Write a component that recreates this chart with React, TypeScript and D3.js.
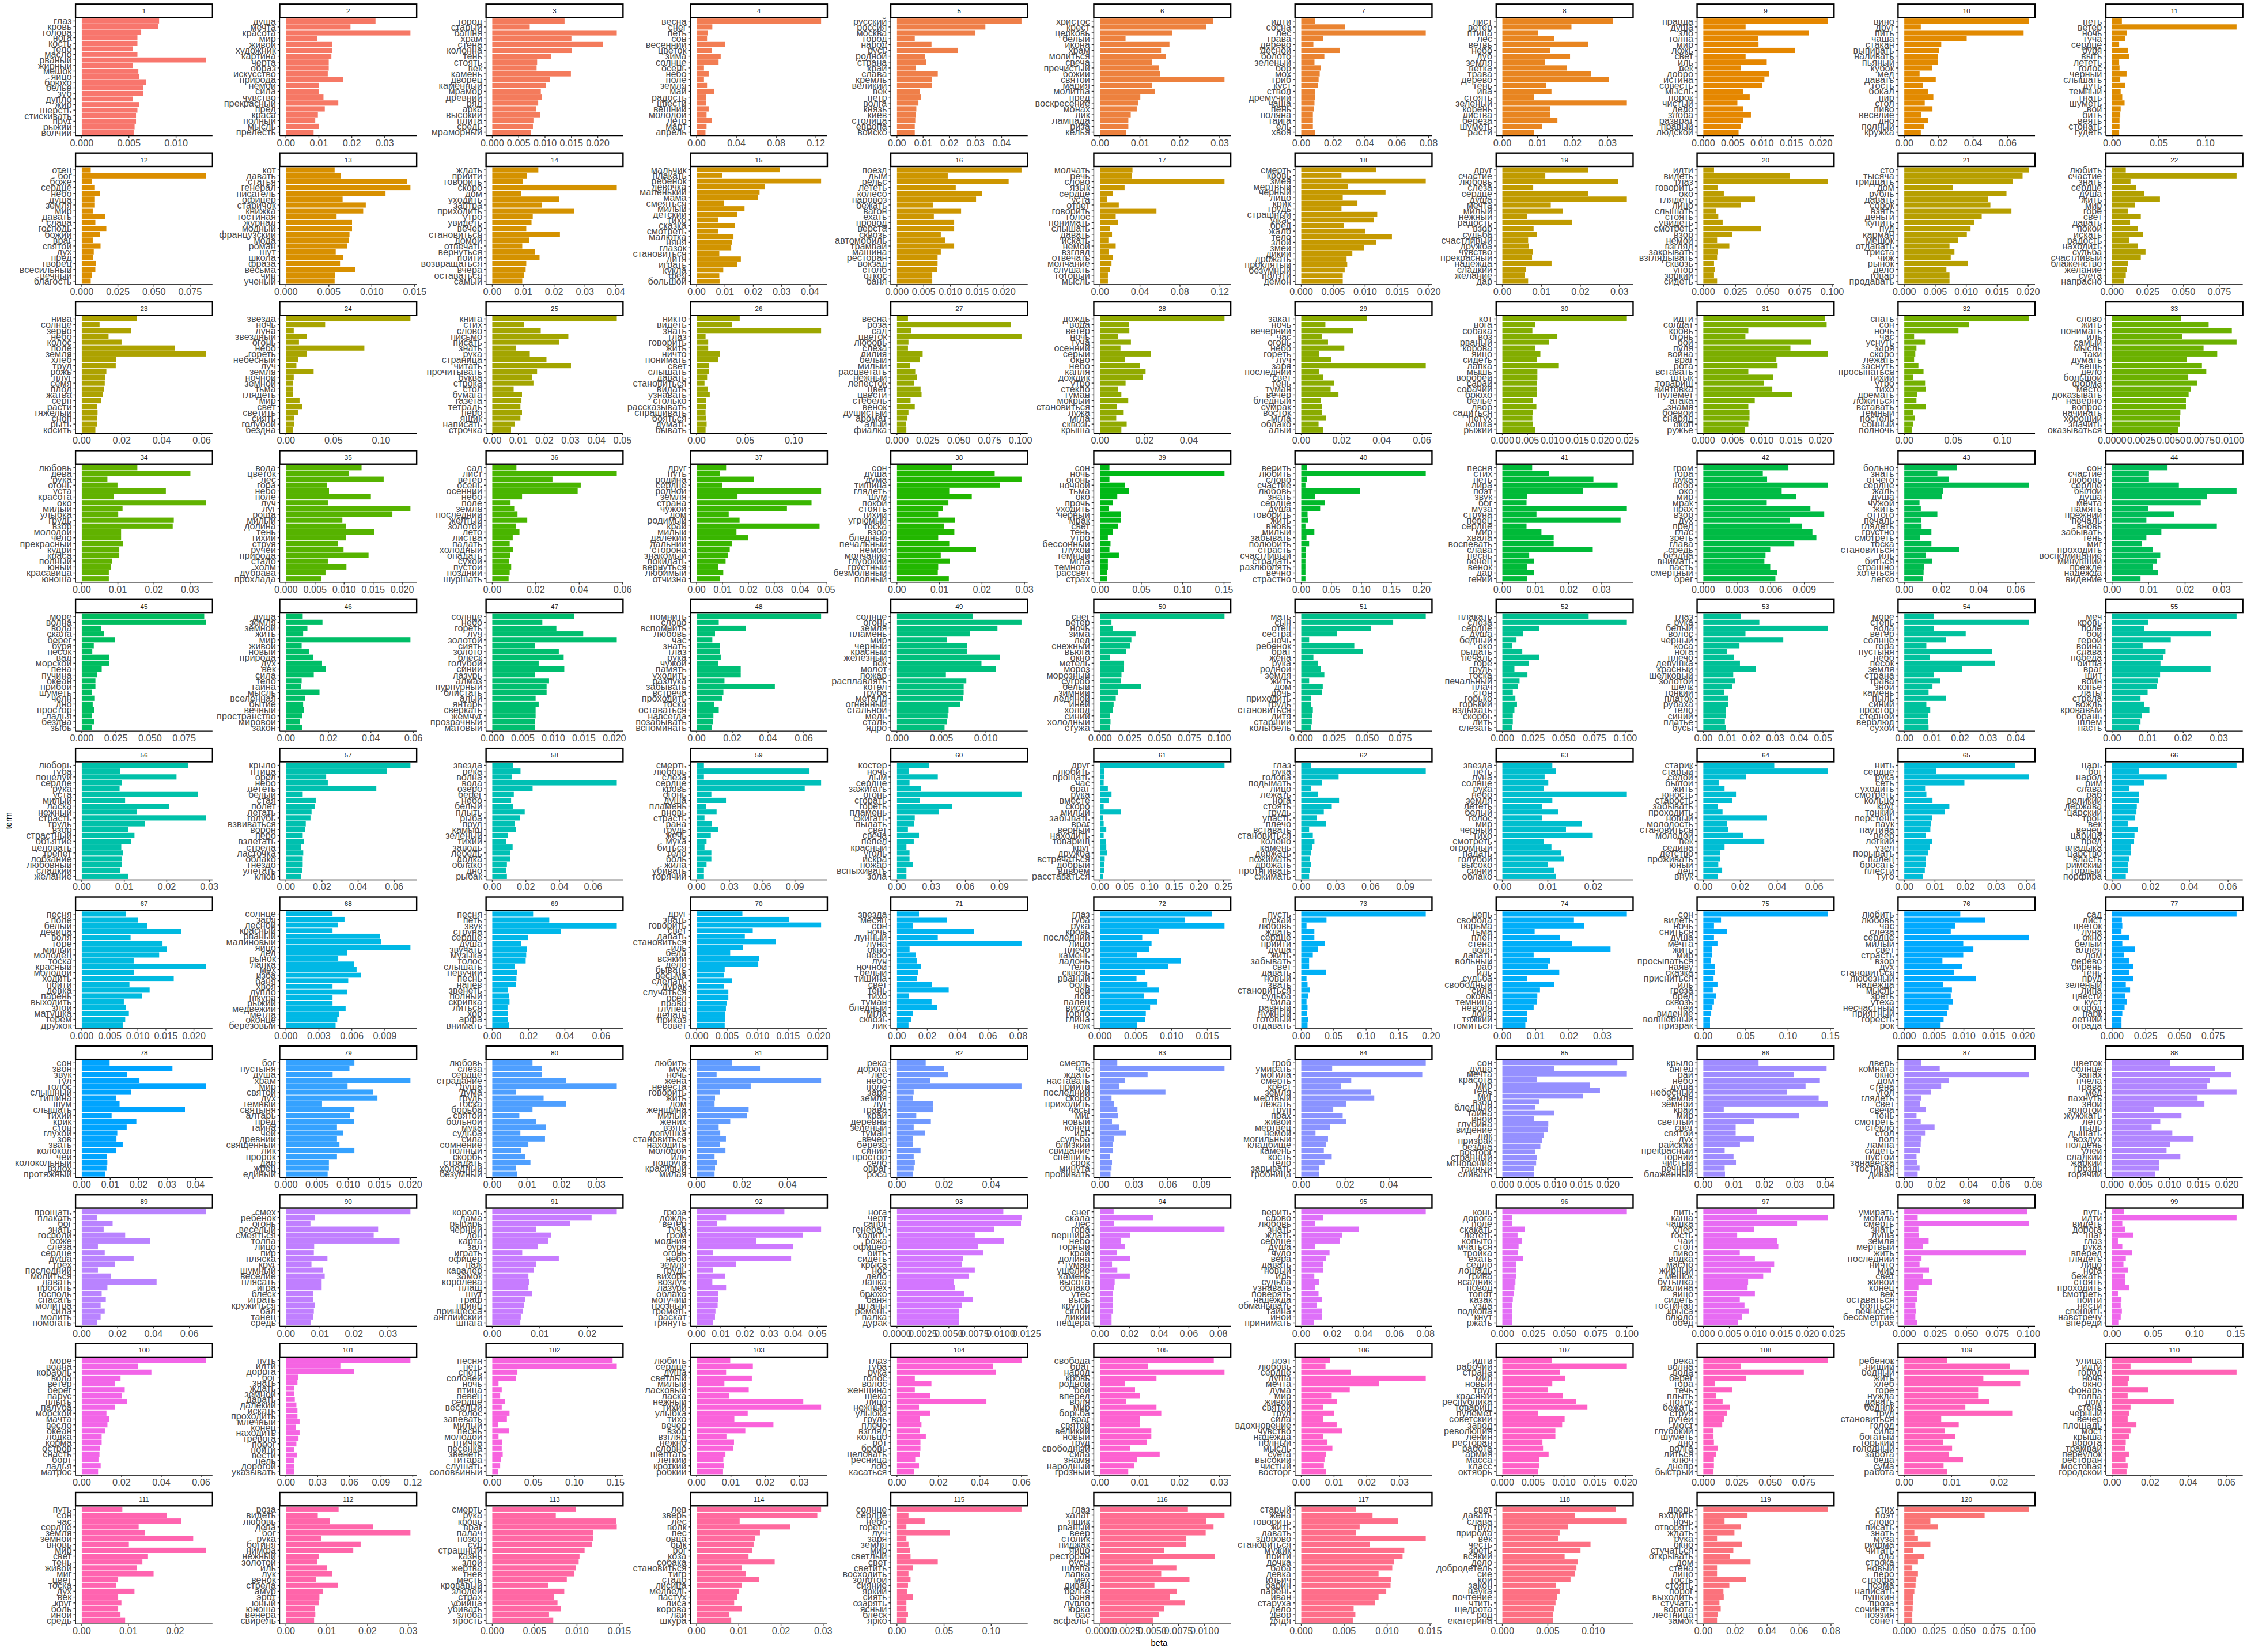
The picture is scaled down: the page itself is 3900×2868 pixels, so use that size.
import { useMemo } from "react";
import * as d3 from "d3";

const W = 3900;
const H = 2868;
const PT = 96 / 72;

// top terms of every topic, listed from top to bottom as drawn
const topicTerms: string[] = [
  "глаз кровь голова нога кость тело масло рваный жирный мешок яйцо брюхо белье зуб дупло жир шерсть стискивать прут рыжий волчий",
  "душа мечта красота мир живой художник картина черта образ искусство природа немой сила чувство прекрасный пред краса полный мысль прелесть",
  "город старый башня храм стена колонна тень стоять век камень дворец каменный мрамор древний ряд арка высокий плита средь мраморный",
  "весна снег петь сон весенний цветок зима солнце осень небо поле земля май радость цвести вешний молодой лето март апрель",
  "русский россия москва город народ русь родной страна край слава кремль великий век петр волга князь киев столица европа войско",
  "христос крест церковь белый икона храм молиться свеча пречистый божий святой мария молитва пред воскресение монах лик лампада риза келья",
  "идти сосна лес трава дерево лесной болото зеленый бор мох гриб куст ствол дремучий чаща пень поляна тайга ель хвоя",
  "лист ветер птица лес ветвь небо дуб земля ветка трава дерево тень ива стоять зеленый корень листва береза шуметь расти",
  "правда душа зло толпа мир ложь свет иль век добро истина совесть мысль порок чистый дело злоба разврат правый людской",
  "вино друг пить чаша стакан выпивать наливать пьяный кубок мед давать гость бокал пир стол пиво веселие дно полный кружка",
  "петь ветер ночь туча сердце буря выть лететь голос черный слышать дуть темный гнать шуметь вой бить веять стонать гудеть",
  "отец бог боже сердце небо душа земля мир давать слава господь божий враг святой дух пред творец всесильный вечный благость",
  "кот давать статья генерал писатель офицер старичок книжка гостиная журнал модный французский мода роман шут школа фраза весьма чин ученый",
  "ждать прийти говорить скоро дом уходить завтра приходить утро увидеть вечер становиться домой отвечать вернуться пойти возвращаться вчера оставаться самый",
  "мальчик плакать ребенок девочка маленький мама смеяться милый детский тихо сказка смотреть малютка няня глазок становиться дитя играть кукла фея большой",
  "поезд дым рельс лететь колесо паровоз бежать вагон ехать провод верста сквозь автомобиль трамвай машина ресторан вокзал столб откос баня",
  "молчать речь слово язык сердце уста ответ говорить голос понимать слышать давать искать немой взгляд отвечать молчание слушать готовый мысль",
  "смерть кровь змея мертвый черный лицо крик грудь страшный ужас бред жало тело злой змей дикий дрожать проклятый безумный ползти демон",
  "друг счастие любовь слеза сердце душа мечта милый нежный радость взор судьба счастливый дружба чувство прекрасный надежда сладкий желание дар",
  "идти видеть глаз говорить око глядеть лицо слышать стоять увидеть смотреть взор немой взгляд закрывать взглядывать сквозь упор зоркий сидеть",
  "сто тысяча тридцать дом рубль давать сорок взять деньги купить пуд карман мешок отдавать триста чиж рынок дело товар продавать",
  "любить счастие знать сердце душа жить мир горе свет давать покой искать радость находить судьба счастливый блаженство желание суета напрасно",
  "нива солнце зерно небо колос поле земля хлеб труд рожь плуг семя плод жатва серп расти тяжелый сноп рыть косить",
  "звезда ночь луна звездный огонь небо гореть небесный луч земля ночной земной тьма глядеть мир свет светить сиять голубой бездна",
  "книга стих слово письмо писать знать рука страница читать прочитывать буква строка стол бумага газета тетрадь перо ящик написать строчка",
  "никто видеть знать глаз говорить жить ничто понимать свет слышать давать становиться видать узнавать столько рассказывать спрашивать бояться думать бывать",
  "весна роза сад цветок любовь слеза лилия белый милый расцветать нежный лепесток цвет цвести стебель венок душистый аромат алый фиалка",
  "дождь вода ветер ночь туча осенний серый окно небо капля дождик утро стекло туман мокрый становиться лужа мгла сквозь крыша",
  "закат ночь вечерний час огонь небо гореть луч заря последний свет тень туман вечер бледный сумрак восток мгла облако алый",
  "кот нога собака воз рваный корова яйцо сидеть лапка мышь воробей сарай собачий брюхо белье двор садиться петух кошка рыжий",
  "идти солдат кровь огонь бой пуля война враг рота вставать штык товарищ винтовка пулемет атака знамя боевой снаряд окоп ружье",
  "спать сон ночь час уснуть заря скоро лежать заснуть просыпаться тихий утро тихо дремать ложиться вставать темный постель сонный полночь",
  "слово жить понимать иль самый мысль таки думать вещь дело большой форма место доказывать наверно вопрос начинать хороший значить оказываться",
  "любовь дева рука огонь уста красота око милый улыбка грудь взор молодой чело прекрасный кудри краса полный юный красавица юноша",
  "вода цветок лес гора небо поле луч луг роща милый долина тень тихий струя ручей природа стадо холм дубрава прохлада",
  "сад лист ветер осень осенний небо поле земля последний желтый золотой лето листва падать холодный опадать сухой пустой поздний шуршать",
  "друг путь родина сердце родной земля страна чужой дом родимый край милый далекий дальний сторона знакомый покидать вернуться любимый отчизна",
  "сон душа дума тишина глядеть шум покой стоять тихий угрюмый тоска взор бледный печальный немой молчание глубокий грустный безмолвный полный",
  "сон ночь огонь ночной тьма око прочь уходить черный мрак свет тень утро бессонный глухой темный мгла темнота рассвет страх",
  "верить любить слово счастие любовь знать сердце душа говорить жить вновь милый забывать полюбить страсть счастливый страдать разлюблять вечно страстно",
  "песня стих петь лира поэт звук бог муза струна певец сердце мир хвала воспевать слава песнь венец венок дар гений",
  "гром гора рука небо око мир мрак прах взор дух пред глас зреть глава средь бездна внимать пасть смертный брег",
  "больно знать отчего сердце жаль душа чужой жить оттого печаль глядеть грустно смотреть тоска становиться иль биться страшно хотеться легко",
  "сон счастие любовь сердце былой душа мечта память прежний печаль вновь забывать тень миг проходить воспоминание минувший прежде надежда видение",
  "море волна вода скала берег буря песок вал морской пена пучина океан прибой шуметь челн дно простор ладья бездна зыбь",
  "душа земля земной жить мир живой новый природа дух век сила тело тайна мысль вселенная бытие вечный пространство мировой закон",
  "солнце небо гореть луч золотой сиять золото блеск голубой синий лазурь алмаз пурпурный блистать алый янтарь сверкать жемчуг прозрачный матовый",
  "помнить слово вспомнить любовь час знать глаз рука чужой память уходить разлука забывать встреча проходить тоска оставаться навсегда позабывать вспоминать",
  "солнце огонь земля пламень мир черный красный железный век молот пожар расплавлять котел труба металл огненный стальной медь сталь ядро",
  "снег ветер ночь зима лед снежный вьюга окно метель мороз морозный сугроб белый зимний ледяной иней холод синий холодный стужа",
  "мать сын отец сестра ночь ребенок брат жена рука родной земля жить дом дочь приходить грудь становиться дитя старший колыбель",
  "плакать слеза сердце душа бедный око рыдать печаль горе грудь тоска печальный плач стон горько горький вздыхать скорбь лить слезать",
  "глаз рука белый волос черный коса нога плечо девушка красный шелковый золотой шелк тонкий платок рубаха тело синий платье бусы",
  "море степь вода ветер солнце гора пустыня небо песок земля страна трава зной камень пыль синий простор степной верблюд сухой",
  "меч кровь поле бой герой война слава победа битва враг щит воин копье латы стрела вождь кровавый брань шлем пасть",
  "любовь губа поцелуй сердце рука уста милый ласка нежный страсть грудь взор страстный объятие целовать трепет лобзание любовный сладкий желание",
  "крыло птица орел небо лететь белый стая полет летать голубь взвиваться ворон перо взлетать стрела ласточка облако гнездо улетать клюв",
  "звезда река волна вода озеро берег небо белый плыть рыба пруд камыш зеленый тихий заводь лебедь лодка облако дно рыбак",
  "смерть любовь слеза сердце кровь огонь душа пламень вновь страсть рана грудь жечь мука биться тело боль жила убивать горячий",
  "костер ночь дым сердце зажигать огонь сгорать гореть пламень сжигать пылать свет свеча пепел красный уголь искра пожар вспыхивать зола",
  "друг любить прощать час брат рука вместе скоро милый забывать враг верный находить товарищ круг дружба встречаться добрый вдвоем расставаться",
  "глаз рука голова подымать лицо лежать нога стоять грудь упасть плечо вставать становиться колено камень держать пожимать дрожать протягивать сжимать",
  "звезда петь луна солнце рука небо земля лететь белый голос мир черный тихо смотреть огромный падать голубой высоко синий облако",
  "старик старый седой былой жить юность старость забывать проходить новый молодость становиться молодой век седина детство проживать юный дед внук",
  "нить сердце рука сеть уходить смотреть кольцо круг тонкий перстень паук паутина веер легкий узел порывать палец бросать плести туго",
  "царь бог народ рим слава раб великий держава царский трон век венец царица пред владыка царство власть римский гордый порфира",
  "песня поле белый девица воля горе милый молодец тоска красный молодой ходить пойти девка парень выходить злой матушка терем дружок",
  "солнце заря лесной красный рваный малиновый яйцо дед рынок лапка мех изба баня хвоя дупло шкура рыжий медвежий метла оконце березовый",
  "песня петь звук струна сердце душа звучать музыка голос слышать певучий песнь напев звенеть полный скрипка литься хор арфа внимать",
  "друг знать говорить свет давать становиться иль беда всякий дело бывать весьма сделать дурак случаться осел право глупец делать приказ совет",
  "звезда месяц сон ночь лунный луна окно небо луч ночной белый тишина свет тень тихо туман бледный мгла сквозь лик",
  "глаз губа рука кровь последний лицо плечо камень ладонь тело сквозь рваный боль чей лоб палец висок горло глина нож",
  "пусть пускай любовь ждать сердце прийти душа жить забывать свет давать новый звать становиться судьба сила равный нужный готовый отдавать",
  "цепь свобода тюрьма тьма плен стена воля давать вольный раб иль судьба свободный сила оковы темница неволя доля тяжкий томиться",
  "сон видеть ночь сниться душа мечта жить мир просыпаться наяву сказка присниться иль греза бред сквозь чей видение волшебный призрак",
  "любить любовь час слеза сердце милый свет страсть взор дух становиться любезный надежда мысль зреть утеха несчастный приятный горесть рок",
  "сад лист цветок луна окно белый аллея дом дерево сирень тень пруд зеленый липа цвести куст огород парк летний ограда",
  "сон звон звук гул голос слышный тишина шум слышать тихий крик стон глухой зов звать колокол чей колокольный вздох протяжный",
  "бог пустыня душа храм мир святой дух темный святыня алтарь пред тайна чей древний священный лик пророк дар жрец единый",
  "любовь слеза сердце страдание душа дума грудь тоска борьба святой больной мука судьба сила сомнение полный скорбь страдать холодный безумный",
  "любить муж ночь жена невеста говорить жить дом женщина милый жених взять девушка становиться находить молодой иль подруга красивый милая",
  "река дорога лес небо поле заря земля луг трава край деревня зеленый туман вечер береза синий простор село овраг роса",
  "смерть час ждать наставать прийти последний скоро приходить часы миг новый конец иль судьба близкий свидание спешить срок минута пробивать",
  "гроб умирать могила смерть крест земля мертвый лежать труп прах живой мертвец немой могильный кладбище камень кость тело зарывать гробница",
  "сон душа мечта красота мир тень миг взор бледный тайна иной глубина видение лик призрак бездна восторг странный мгновение тайный сливать",
  "крыло ангел рай небо душа небесный земля земной край мир светлый свет святой дух райский прекрасный горний чистый вечный блаженный",
  "дверь комната окно дом стена угол глядеть свет свеча тень смотреть стекло стол пол лампа сидеть пустой занавеска гостиная диван",
  "цветок солнце запах пчела трава мед пахнуть зной золотой жужжать лето пыль дышать воздух полдень улей сладкий жаркий гроздь горячий",
  "прощать плакать бог знать господи боже слеза сердце душа грех последний молиться давать просить господь спасать молитва сила молить помогать",
  "смех ребенок огонь веселый смеяться толпа лицо пир пляска круг шумный веселие плясать игра блеск играть кружиться бал танец средь",
  "король дама рыцарь черный дон карта зал играть офицер паж кавалер замок королева плащ шут граф принц принцесса английский шпага",
  "гроза дождь ветер туча гром молния буря огонь небо земля грудь вихорь воздух лазурь облако могучий грозный греметь раскат грянуть",
  "нога черт сапог генерал ходить рожа офицер бить сидеть крыса нос дело лапка мех брюхо баня штаны ремень палка дурак",
  "снег скала лес гора вершина небо горный край долина туман ущелие камень высота облако утес высь крутой склон дикий пещера",
  "верить слово любовь знать ждать сердце душа чудо вера давать новый иль судьба узнавать поверять надежда обманывать тайна иной принимать",
  "конь дорога поле скакать лететь копыто мчаться тройка ехать седло лошадь грива всадник повод топот казак узда подкова кнут ржать",
  "пить каша чашка хлеб гость чай стол пиво водка масло жирный мешок бутылка малина яйцо сидеть гостиная крыса блюдо обед",
  "умирать могила смерть знать душа земля мертвый жить последний ничто мир свет живой конец век оставаться бояться вечность бессмертие страх",
  "путь идти видеть дорога шаг глаз рука вперед глядеть лицо нога бежать стоять проходить смотреть пойти нести спешить навстречу впереди",
  "море волна корабль вода ветер берег парус плыть палуба морской мачта весло океан лодка корма остров снасть борт ладья матрос",
  "путь идти дорога бог знать ждать земной давать далекий искать проходить млечный конец находить тревога порог пойти вести цель дорогой указывать",
  "песня петь спеть соловей ночь птица певец сердце веселый голос запевать милый песнь молодой птичка песенка звенеть гитара слушать соловьиный",
  "любить сердце душа светлый милый ласковый ласка нежный тихий улыбка тихо вечер взор взгляд нежно словно шептать легкий кроткий робкий",
  "глаз губа рука голос волос женщина щека лицо нежный улыбка грудь плечо взгляд кольцо рот бровь целовать ресница лоб касаться",
  "свобода брат народ кровь родной бой вперед воля мир борьба враг святой великий новый труд свободный сила знамя народный грозный",
  "поэт любовь сердце душа мечта дума мир живой святой труд сила вдохновение чувство надежда полный мысль суета высокий чистый восторг",
  "идти рабочий страна мир новый труд красный республика товарищ пулемет советский завод революция ленин ресторан работа армия масса класс октябрь",
  "река волна вода берег гора течь плыть поток бежать струя ручей мост глубокий шуметь дно волга литься ключ днепр быстрый",
  "ребенок нищий бедный жить хлеб горе нужда давать бедняк труд становиться голод сила богатый горький голодный забота беда сума работа",
  "улица идти город ночь окно фонарь толпа дом стена черный вечер площадь мост крыша ворота трамвай переулок ресторан мостовая городской",
  "путь сон час сердце земля земной вновь мир свет тень живой миг цвет тоска дух век круг боль иной средь",
  "роза видеть любовь дева бог рука богиня нимфа нежный золотой иль лук венок стрела амур эрот юный юноша венера свирель",
  "смерть рука кровь враг палач позор суд страшный казнь злой жертва гнев месть кровавый злодей страх убийца убивать злоба ярость",
  "лев зверь лес волк пес овца бык рог коза собака становиться тигр стадо лисица медведь пастух лиса корова лай шкура",
  "солнце сердце небо гореть луч заря земля мир светлый свет светить восходить золотой сияние яркий сиять озарять ясный блеск ярко",
  "глаз халат ящик рваный веер столик пиджак яйцо ресторан бусы шляпа лапка мех диван белье баня дупло юбка бас асфальт",
  "старый жена говорить жить давать здорово становиться мужик пойти дочка баба девка ильич барин парень иван старуха дело двор дядя",
  "свет давать слава труд природа век честь зреть всякий дело добродетель сие кой закон наука почтение чтить щедрота род екатерина",
  "дверь входить ночь отворять ждать рука окно стучаться открывать дом стена лицо гость стоять порог выходить стучать ворота лестница замок",
  "стих поэт слово писать знать муза рифма читать ода строка новый перо строфа поэма написать пушкин проза сочинять поэзия сонет",
];

// beta × 1000 for the same terms, same order
const topicBeta: number[][] = [
  [8.2, 8.1, 6.3, 5.9, 5.9, 5.4, 5.9, 13.2, 5.4, 6.0, 6.1, 6.8, 6.5, 6.5, 5.4, 6.1, 5.9, 5.75, 5.75, 5.6, 5.5],
  [27.2, 19.6, 37.8, 9.4, 14.1, 14.1, 13.8, 13.0, 13.0, 12.7, 17.3, 10.0, 10.0, 11.4, 15.9, 11.8, 9.7, 8.9, 10.0, 8.4],
  [13.7, 7.1, 23.6, 15.0, 21.0, 15.1, 11.2, 8.5, 8.4, 14.9, 10.9, 10.2, 9.2, 9.4, 8.7, 8.3, 9.1, 7.8, 7.7, 7.3],
  [125.2, 15.8, 11.0, 10.5, 28.9, 15.3, 24.2, 22.1, 7.4, 12.1, 7.4, 10.5, 17.9, 9.5, 9.5, 12.1, 10.0, 15.3, 10.0, 8.9],
  [47.6, 33.8, 30.0, 6.8, 13.2, 23.2, 10.8, 11.2, 7.2, 15.6, 13.4, 13.4, 8.8, 9.2, 8.2, 7.4, 7.2, 7.0, 6.8, 6.8],
  [28.4, 26.6, 18.1, 6.4, 17.4, 15.3, 16.5, 13.0, 14.8, 15.1, 31.2, 13.0, 13.8, 10.1, 9.6, 9.2, 7.7, 7.1, 7.1, 6.6],
  [8.6, 27.4, 78.2, 13.9, 7.6, 24.4, 14.5, 8.3, 12.2, 11.6, 10.9, 10.6, 8.6, 8.6, 8.3, 7.9, 7.3, 7.3, 7.3, 8.6],
  [31.5, 19.7, 10.1, 14.8, 24.5, 13.7, 19.3, 12.1, 18.4, 25.2, 30.4, 12.4, 14.0, 9.0, 35.5, 13.6, 13.6, 15.7, 11.3, 9.1],
  [21.2, 7.2, 18.0, 9.3, 9.4, 15.6, 7.2, 10.8, 6.4, 11.2, 10.4, 10.0, 6.8, 7.9, 5.8, 6.8, 8.1, 6.8, 6.4, 6.0],
  [72.4, 9.6, 69.4, 36.3, 21.5, 20.1, 19.4, 19.4, 16.2, 8.9, 18.3, 10.7, 13.9, 16.9, 11.9, 16.4, 10.0, 13.9, 11.4, 9.6],
  [10.5, 133.2, 16.0, 14.3, 7.6, 16.8, 18.5, 7.6, 8.0, 15.5, 8.8, 14.3, 9.2, 10.9, 13.4, 9.2, 8.8, 8.0, 8.0, 7.6],
  [6.2, 86.2, 6.9, 9.1, 12.7, 9.1, 9.1, 7.6, 16.3, 9.4, 17.0, 12.7, 7.6, 13.0, 8.3, 8.0, 9.8, 9.4, 7.2, 6.2],
  [5.67, 6.4, 14.1, 14.5, 11.6, 6.6, 9.3, 9.0, 5.9, 7.7, 7.7, 7.4, 7.3, 7.1, 5.8, 6.65, 6.3, 8.05, 5.7, 5.67],
  [14.9, 11.2, 9.8, 40.3, 9.3, 21.7, 16.1, 26.4, 13.1, 12.7, 11.0, 21.9, 12.0, 9.7, 13.9, 15.3, 11.0, 10.8, 10.3, 9.7],
  [29.4, 9.1, 43.9, 24.1, 22.2, 21.7, 9.6, 16.9, 14.4, 7.6, 13.5, 7.6, 13.0, 12.4, 12.2, 8.0, 15.6, 14.3, 9.4, 8.0, 8.1],
  [23.3, 9.5, 20.9, 11.0, 15.9, 14.8, 6.7, 12.0, 6.9, 10.7, 10.7, 8.2, 9.0, 10.7, 8.2, 7.6, 7.6, 7.5, 6.6, 6.6],
  [32.5, 31.9, 124.6, 24.6, 13.1, 7.3, 18.8, 56.5, 15.7, 17.8, 9.9, 12.0, 8.4, 15.7, 8.9, 13.1, 11.5, 9.9, 7.9, 7.9],
  [11.7, 6.3, 19.5, 7.3, 13.2, 6.5, 8.8, 6.3, 11.9, 11.4, 6.7, 10.0, 14.2, 11.7, 9.8, 8.0, 7.1, 7.2, 6.8, 6.5, 6.5],
  [22.0, 11.0, 29.6, 7.9, 22.0, 31.9, 12.4, 15.5, 6.3, 17.8, 8.0, 8.8, 6.6, 6.8, 7.8, 7.6, 12.6, 6.0, 5.8, 6.6],
  [8.3, 67.0, 96.6, 11.0, 15.9, 40.1, 29.1, 10.1, 11.6, 15.0, 44.6, 22.3, 10.7, 20.2, 11.0, 10.7, 8.3, 9.2, 8.3, 10.7],
  [20.1, 19.1, 17.5, 7.8, 16.5, 13.5, 13.9, 17.3, 12.5, 11.3, 10.7, 10.1, 8.7, 7.3, 8.1, 7.5, 10.3, 6.8, 7.3, 7.3],
  [9.6, 87.1, 12.9, 17.0, 22.3, 33.5, 16.2, 11.3, 20.1, 12.6, 17.9, 21.7, 12.1, 17.9, 23.4, 20.1, 11.0, 10.2, 9.6, 8.5],
  [27.5, 8.9, 24.6, 13.4, 19.9, 46.6, 62.3, 17.3, 17.0, 12.3, 11.8, 11.5, 11.0, 10.5, 9.7, 7.6, 7.9, 7.6, 7.6, 6.8],
  [130.8, 41.2, 8.2, 22.0, 13.7, 82.4, 22.0, 12.6, 11.0, 29.1, 8.2, 7.1, 7.7, 7.7, 14.3, 17.0, 12.6, 8.8, 8.8, 7.7],
  [47.8, 12.2, 18.6, 29.2, 25.6, 9.0, 14.4, 20.8, 30.2, 17.2, 15.2, 15.8, 8.2, 11.4, 11.2, 10.8, 11.4, 10.8, 8.6, 7.2],
  [44.3, 36.2, 128, 9.2, 11.9, 11.9, 23.8, 22.2, 13.0, 12.4, 10.8, 8.1, 11.4, 13.5, 9.7, 9.7, 9.2, 9.7, 10.3, 9.2],
  [8.9, 92.4, 11.4, 100.8, 9.3, 8.9, 20.8, 18.6, 10.6, 14.8, 16.1, 14.0, 19.1, 19.9, 11.0, 14.4, 9.3, 8.5, 7.2, 7.6],
  [56.0, 12.9, 13.2, 8.2, 13.9, 9.2, 22.8, 11.1, 17.9, 20.5, 19.3, 11.5, 8.2, 9.6, 12.7, 7.5, 10.4, 7.3, 12.0, 9.6],
  [32.6, 12.0, 25.8, 10.4, 13.3, 21.4, 8.9, 14.9, 61.9, 8.9, 11.0, 16.4, 14.6, 18.5, 9.7, 10.4, 10.4, 12.3, 8.6, 11.0],
  [24.9, 6.6, 6.0, 11.0, 9.3, 6.6, 7.6, 6.9, 11.3, 7.0, 7.0, 6.9, 6.9, 6.9, 6.1, 6.8, 6.1, 6.0, 6.1, 6.6],
  [20.8, 21.1, 7.7, 7.2, 18.5, 14.9, 21.3, 12.5, 12.7, 7.7, 11.9, 10.4, 11.8, 15.2, 8.8, 7.7, 7.9, 7.9, 7.7, 7.1],
  [126.8, 66.0, 55.2, 10.0, 21.2, 12.4, 11.2, 10.0, 14.4, 19.6, 8.8, 21.2, 22.0, 13.2, 12.4, 22.0, 8.8, 10.8, 8.8, 8.0],
  [5.87, 8.2, 10.17, 5.97, 10.57, 7.77, 8.93, 6.37, 7.63, 8.0, 6.47, 7.2, 6.7, 6.5, 6.27, 6.27, 5.8, 5.77, 5.77, 5.63],
  [15.4, 30.1, 7.1, 9.9, 23.3, 8.8, 34.5, 11.3, 10.1, 25.5, 25.2, 10.9, 10.9, 11.4, 10.4, 10.4, 8.4, 8.0, 7.5, 7.5],
  [13.0, 10.8, 16.8, 7.1, 7.4, 14.6, 7.2, 21.4, 18.3, 9.7, 10.3, 15.2, 10.3, 8.9, 9.9, 14.2, 7.2, 10.4, 6.8, 6.1],
  [11.1, 57.3, 27.7, 40.7, 39.3, 13.7, 8.4, 10.1, 11.6, 16.1, 10.8, 12.5, 9.4, 8.0, 9.6, 8.2, 7.7, 8.7, 8.0, 7.5],
  [11.4, 8.9, 22.1, 9.9, 48.1, 15.8, 44.4, 34.9, 12.4, 16.6, 47.5, 15.4, 19.9, 13.6, 12.8, 12.0, 11.2, 8.3, 10.3, 9.1],
  [12.9, 23.0, 29.3, 24.2, 12.3, 17.6, 12.1, 10.8, 9.7, 13.7, 11.1, 13.5, 9.7, 12.3, 18.6, 10.3, 12.4, 9.7, 9.6, 12.2],
  [11.4, 150.6, 11.4, 30.4, 34.8, 20.9, 15.8, 10.8, 25.3, 25.3, 21.5, 15.8, 9.5, 12.7, 11.4, 22.8, 9.5, 9.5, 8.9, 8.2],
  [9.6, 207, 9.6, 7.0, 97.8, 22.7, 39.3, 31.4, 10.5, 11.4, 7.0, 21.8, 8.7, 13.1, 7.9, 7.9, 7.0, 7.0, 7.0, 7.0],
  [9.0, 14.1, 27.5, 34.8, 24.3, 7.4, 7.3, 37.6, 10.3, 35.7, 7.3, 11.8, 15.5, 15.5, 27.3, 8.1, 9.5, 7.4, 9.5, 7.4],
  [7.58, 5.3, 5.68, 11.09, 6.98, 8.28, 5.65, 9.54, 10.77, 7.68, 8.77, 9.72, 10.07, 8.1, 5.96, 5.54, 5.44, 5.96, 6.56, 6.42],
  [28.3, 17.8, 23.9, 67.0, 20.9, 20.3, 8.2, 8.9, 17.8, 9.1, 9.3, 14.6, 8.5, 14.6, 29.6, 11.6, 15.0, 10.6, 10.4, 9.9],
  [15.2, 10.1, 10.1, 18.3, 34.1, 26.0, 24.3, 9.9, 17.0, 9.4, 28.7, 13.5, 9.4, 8.1, 11.1, 13.2, 12.3, 11.2, 12.5, 7.8],
  [89.7, 91.2, 14.2, 16.1, 24.5, 8.8, 7.7, 19.9, 19.9, 14.6, 11.1, 10.0, 10.0, 7.3, 9.6, 8.0, 9.2, 7.3, 9.2, 7.3],
  [7.9, 17.2, 10.1, 8.1, 58.6, 7.4, 10.8, 12.8, 17.0, 18.7, 13.1, 7.4, 7.1, 15.8, 8.9, 8.1, 8.6, 7.6, 6.7, 7.6],
  [13.4, 8.2, 10.5, 14.9, 20.4, 7.0, 10.9, 11.7, 7.6, 11.8, 7.0, 9.3, 8.9, 8.9, 7.1, 7.6, 7.1, 7.1, 7.0, 7.0],
  [69.7, 12.4, 27.6, 10.3, 8.8, 12.9, 12.9, 13.5, 12.1, 24.7, 24.7, 15.6, 43.8, 15.0, 14.4, 9.7, 12.4, 9.4, 9.1, 8.5],
  [8.5, 14.0, 11.3, 8.2, 5.6, 7.9, 7.9, 11.6, 9.5, 11.1, 5.5, 7.8, 7.5, 7.5, 7.4, 7.1, 5.8, 5.7, 5.6, 5.35],
  [104.4, 9.6, 11.0, 29.8, 26.3, 25.4, 21.9, 8.3, 20.2, 19.7, 18.0, 17.5, 34.2, 14.9, 13.2, 11.4, 11.0, 8.3, 8.8, 8.3],
  [94.4, 69.7, 53.0, 27.1, 6.0, 40.2, 46.6, 9.2, 12.7, 14.7, 17.5, 6.0, 16.3, 15.5, 7.6, 7.2, 8.8, 8.4, 8.0, 7.6],
  [70.2, 101.3, 29.8, 17.0, 11.5, 8.1, 16.2, 30.2, 21.7, 9.8, 20.4, 14.0, 12.8, 8.5, 10.6, 11.9, 9.8, 8.5, 8.5, 8.1],
  [15.6, 23.4, 52.0, 17.6, 33.4, 15.1, 9.9, 12.7, 15.3, 21.9, 12.5, 13.2, 12.0, 8.6, 10.5, 10.4, 9.4, 9.5, 9.0, 9.5],
  [10.6, 44.6, 10.6, 22.0, 14.9, 7.9, 31.4, 9.2, 32.5, 20.8, 10.6, 12.8, 10.1, 8.7, 14.9, 7.9, 9.3, 8.6, 8.6, 8.7],
  [35.0, 10.1, 9.0, 27.8, 16.5, 8.6, 15.0, 14.4, 13.6, 27.7, 13.5, 12.9, 12.6, 10.0, 8.0, 9.0, 10.5, 8.4, 8.0, 7.5],
  [25.1, 9.0, 22.3, 9.5, 8.9, 27.3, 10.2, 20.5, 13.0, 29.3, 14.9, 10.9, 12.4, 11.6, 9.3, 9.7, 9.5, 9.5, 9.1, 10.9],
  [69.0, 55.9, 22.3, 23.2, 50.1, 9.3, 16.5, 16.2, 14.2, 13.6, 11.0, 10.7, 9.3, 9.9, 8.4, 9.6, 9.3, 9.3, 9.0, 8.4],
  [12.5, 16.8, 11.5, 74.1, 24.0, 12.8, 11.2, 12.5, 19.3, 16.5, 13.4, 14.0, 9.3, 8.1, 12.1, 10.6, 10.6, 8.7, 8.1, 8.7],
  [6.7, 103.4, 6.7, 114, 99.0, 13.5, 26.9, 8.7, 18.3, 7.2, 13.9, 19.7, 13.0, 9.1, 7.2, 13.5, 13.5, 9.1, 6.7, 6.7],
  [28.4, 10.6, 35.8, 11.0, 21.1, 109.2, 20.2, 48.6, 36.7, 15.6, 15.1, 9.6, 19.3, 14.7, 8.3, 11.0, 11.0, 13.8, 8.3, 8.3],
  [252, 8.5, 8.5, 7.4, 15.9, 23.3, 18.0, 7.4, 42.4, 6.4, 7.4, 12.7, 7.4, 11.7, 12.7, 14.8, 9.5, 8.5, 8.5, 6.4],
  [8.2, 107.7, 32.3, 17.7, 8.6, 14.5, 32.7, 26.4, 19.5, 13.2, 21.4, 6.8, 10.0, 11.4, 9.5, 8.2, 7.3, 8.2, 7.3, 6.8],
  [11.0, 11.8, 9.3, 10.1, 9.1, 27.4, 11.0, 8.7, 12.3, 8.7, 17.5, 14.0, 19.9, 9.1, 10.8, 13.0, 13.6, 10.0, 11.4, 11.8],
  [38.4, 67.4, 23.0, 8.3, 11.5, 17.7, 15.6, 7.7, 10.4, 34.5, 12.8, 13.4, 21.7, 33.0, 11.5, 9.0, 9.0, 8.1, 10.2, 7.7],
  [36.2, 10.4, 40.6, 19.6, 6.8, 7.2, 9.2, 14.7, 13.2, 9.1, 8.8, 8.5, 7.1, 9.1, 8.3, 7.8, 7.1, 7.1, 6.7, 6.0],
  [64.4, 13.8, 28.3, 16.5, 8.9, 13.8, 13.8, 12.8, 12.6, 12.0, 8.1, 13.4, 11.6, 11.4, 9.8, 9.6, 8.9, 8.1, 8.1, 7.1],
  [7.85, 10.0, 11.7, 17.7, 8.7, 14.4, 15.2, 13.8, 9.25, 22.2, 9.35, 16.4, 8.5, 12.1, 10.7, 7.5, 7.9, 8.4, 7.75, 7.3],
  [4.24, 5.33, 4.71, 4.24, 8.57, 8.67, 11.33, 5.57, 4.76, 6.19, 6.43, 6.81, 5.67, 4.24, 5.57, 4.24, 4.24, 5.43, 4.81, 4.67, 4.52],
  [22.5, 31.4, 68.6, 37.8, 19.6, 15.9, 19.0, 18.7, 18.4, 12.4, 13.8, 13.3, 13.0, 8.6, 9.2, 9.5, 8.4, 8.6, 8.6, 9.2],
  [7.5, 15.1, 20.4, 9.2, 7.9, 13.0, 7.6, 5.5, 10.2, 10.1, 4.6, 4.5, 5.8, 4.5, 5.2, 5.2, 4.9, 4.8, 4.7, 4.7, 4.6],
  [14.5, 32.8, 10.7, 50.7, 26.9, 82.1, 8.3, 12.4, 13.1, 15.9, 14.1, 13.1, 23.1, 34.1, 7.9, 22.8, 26.6, 10.7, 9.3, 7.6],
  [15.6, 11.9, 17.4, 8.2, 5.9, 7.2, 6.9, 5.2, 11.3, 9.5, 6.3, 5.1, 6.6, 8.2, 6.1, 8.0, 7.0, 6.4, 6.3, 5.2],
  [191.9, 38.9, 8.1, 20.2, 20.2, 36.4, 25.9, 17.8, 12.1, 12.1, 38.1, 8.1, 9.7, 13.0, 10.5, 8.1, 9.7, 8.9, 10.5, 9.7],
  [37.4, 21.5, 24.5, 9.7, 17.3, 20.9, 32.5, 9.4, 14.3, 13.7, 17.1, 7.5, 15.5, 11.3, 10.5, 10.4, 9.4, 7.5, 7.4, 6.9],
  [147, 20.9, 12.6, 27.9, 12.6, 16.7, 10.2, 10.2, 8.8, 13.5, 13.5, 12.1, 16.7, 11.2, 15.3, 12.6, 10.7, 9.3, 7.9, 7.9],
  [9.4, 13.6, 8.5, 7.8, 20.9, 9.9, 11.6, 9.9, 6.4, 9.7, 8.4, 12.0, 6.5, 8.0, 7.8, 8.2, 7.4, 7.2, 6.6, 6.1],
  [92.4, 7.3, 7.6, 7.0, 12.8, 7.6, 17.2, 9.0, 12.5, 15.7, 12.5, 15.7, 10.2, 13.4, 9.9, 11.1, 9.3, 7.6, 7.0, 7.0],
  [9.8, 31.9, 16.0, 20.3, 43.8, 17.3, 12.0, 13.3, 36.3, 10.5, 19.2, 15.8, 12.5, 12.2, 14.4, 12.0, 8.8, 9.0, 8.7, 8.3],
  [11.0, 10.2, 7.5, 20.0, 9.9, 14.0, 14.7, 5.8, 11.0, 10.3, 10.9, 8.2, 9.2, 8.2, 8.6, 11.0, 8.2, 6.9, 6.9, 6.7],
  [11.6, 14.3, 14.3, 21.3, 35.9, 6.8, 14.8, 21.3, 11.6, 7.8, 12.7, 15.5, 8.1, 15.2, 10.4, 8.3, 9.4, 11.0, 6.8, 7.2],
  [15.5, 27.9, 8.8, 54.8, 23.8, 10.2, 8.1, 7.9, 22.9, 22.2, 14.8, 9.7, 10.4, 12.9, 10.2, 12.7, 7.9, 9.0, 8.1, 7.9],
  [12.2, 20.0, 21.8, 14.2, 52.9, 7.1, 6.7, 15.3, 15.3, 8.2, 14.4, 7.1, 11.8, 6.7, 6.7, 10.0, 7.1, 7.6, 7.1, 6.9],
  [15.3, 110.2, 42.1, 21.8, 16.7, 57.9, 10.2, 12.5, 15.3, 16.2, 10.6, 17.1, 23.1, 12.5, 11.1, 11.1, 8.8, 10.6, 10.2, 9.3],
  [56.8, 14.1, 55.2, 22.8, 18.0, 31.7, 33.3, 20.6, 14.6, 18.9, 20.4, 13.2, 6.5, 12.2, 11.3, 10.3, 13.9, 10.6, 8.2, 8.2],
  [21.8, 9.8, 23.6, 6.5, 16.6, 18.5, 15.3, 7.0, 6.2, 9.8, 6.0, 8.7, 8.6, 7.8, 7.5, 7.2, 6.2, 6.5, 6.4, 6.0, 6.0],
  [18.1, 40.4, 29.7, 38.2, 33.5, 27.4, 37.8, 40.8, 6.7, 31.4, 16.6, 10.6, 10.6, 16.6, 12.0, 7.0, 9.9, 10.7, 7.0, 7.1],
  [10.5, 22.0, 77.3, 27.6, 22.9, 16.6, 10.5, 9.8, 13.4, 7.6, 10.2, 18.8, 12.9, 10.7, 10.2, 9.8, 7.6, 8.0, 9.5, 8.3],
  [10.1, 17.9, 20.8, 17.0, 16.6, 21.7, 14.9, 16.1, 7.3, 12.1, 8.4, 6.9, 10.5, 14.2, 10.1, 9.5, 11.9, 8.2, 8.2, 7.5],
  [69.4, 8.7, 17.2, 12.2, 24.2, 38.2, 9.0, 12.8, 28.9, 18.4, 9.0, 16.3, 41.7, 14.3, 11.1, 13.4, 10.5, 12.8, 10.5, 8.7],
  [36.6, 8.5, 7.2, 27.1, 25.8, 33.4, 8.3, 8.2, 12.2, 7.5, 10.8, 11.4, 10.5, 10.5, 8.0, 8.0, 8.5, 8.2, 8.0, 7.4],
  [26.2, 20.9, 16.4, 9.2, 12.4, 11.8, 9.6, 6.3, 14.0, 9.2, 8.7, 7.6, 7.8, 7.6, 8.4, 6.9, 6.7, 6.4, 6.0, 5.9],
  [36.3, 12.2, 8.5, 51.5, 43.9, 24.6, 40.0, 6.7, 39.1, 16.3, 6.7, 11.7, 6.5, 12.2, 8.9, 8.9, 8.7, 7.8, 7.6, 6.7],
  [10.25, 12.0, 11.95, 9.35, 7.5, 10.3, 7.8, 8.3, 6.35, 6.25, 7.5, 6.9, 5.5, 5.6, 6.5, 7.3, 6.25, 6.0, 6.0, 6.0],
  [9.2, 35.7, 9.5, 84.1, 20.5, 14.1, 17.0, 11.3, 20.5, 8.1, 11.7, 20.1, 9.9, 9.5, 8.8, 8.8, 8.5, 8.5, 7.8, 7.8],
  [80.1, 13.9, 8.8, 37.2, 26.4, 24.7, 8.8, 18.2, 15.9, 14.2, 13.9, 8.4, 11.5, 8.8, 11.1, 13.5, 9.8, 13.2, 13.5, 8.1],
  [100, 8.0, 8.0, 18.1, 12.2, 15.5, 13.0, 12.6, 16.4, 10.9, 10.9, 10.9, 10.5, 9.7, 9.2, 8.4, 8.0, 8.0, 8.0, 7.6],
  [10.3, 23.9, 18.0, 9.8, 6.5, 14.2, 14.4, 7.0, 9.9, 13.6, 13.0, 11.5, 8.6, 8.5, 9.9, 7.0, 7.9, 8.7, 7.4, 6.7],
  [99.0, 10.8, 100.3, 11.4, 11.7, 19.6, 14.9, 98.1, 13.9, 12.3, 19.9, 14.9, 22.5, 11.4, 10.4, 10.4, 8.9, 9.5, 8.9, 10.4],
  [14.8, 151, 12.4, 16.2, 25.7, 7.1, 12.4, 24.3, 16.7, 13.8, 19.5, 16.2, 16.2, 20.5, 7.1, 11.4, 10.5, 11.9, 10.5, 7.6],
  [62.6, 28.2, 35.0, 19.5, 16.6, 21.6, 20.3, 22.9, 16.6, 12.4, 13.9, 12.9, 11.8, 10.0, 10.0, 9.2, 8.9, 8.4, 9.5, 8.2],
  [117.8, 51.5, 64.4, 11.4, 10.9, 7.9, 7.9, 8.4, 9.9, 10.9, 10.9, 12.9, 9.4, 12.9, 11.9, 9.9, 7.9, 10.4, 7.9, 7.9, 7.9],
  [146.5, 151.6, 30.6, 28.7, 7.6, 11.5, 9.6, 15.3, 11.5, 21.0, 17.8, 7.0, 20.4, 7.6, 12.1, 11.5, 12.7, 10.2, 9.6, 7.0],
  [9.8, 16.4, 8.6, 16.1, 8.1, 15.2, 9.5, 31.1, 36.3, 14.9, 11.0, 22.4, 14.2, 8.7, 10.9, 10.7, 8.4, 7.8, 8.0, 7.7],
  [60.0, 46.3, 47.6, 8.6, 16.6, 8.6, 15.9, 43.1, 10.6, 16.1, 11.1, 11.8, 11.1, 13.9, 11.3, 11.3, 11.1, 8.8, 10.6, 8.1],
  [28.6, 12.1, 31.3, 14.2, 6.3, 8.8, 10.0, 6.6, 14.2, 15.4, 10.0, 10.1, 12.9, 12.9, 11.7, 7.6, 15.0, 9.3, 8.6, 7.1],
  [8.7, 7.4, 15.2, 38.0, 23.8, 14.8, 9.3, 10.9, 6.6, 10.1, 6.7, 10.8, 12.5, 6.6, 8.0, 9.5, 7.5, 7.1, 6.9, 7.5],
  [8.0, 20.2, 9.3, 10.2, 8.1, 7.4, 9.8, 12.0, 13.8, 5.8, 10.1, 9.7, 8.6, 8.6, 6.5, 6.6, 7.5, 6.0, 6.0, 5.8],
  [92.9, 27.9, 75.0, 32.1, 8.5, 21.5, 9.4, 14.4, 19.7, 17.9, 15.3, 14.1, 7.6, 7.6, 7.9, 10.6, 9.7, 7.9, 7.9, 7.6],
  [9.1, 22.3, 26.3, 16.7, 24.5, 15.6, 15.6, 17.9, 12.9, 22.8, 7.8, 11.5, 8.5, 10.7, 8.2, 10.1, 9.4, 12.4, 8.3, 9.0],
  [42.1, 9.7, 65.4, 9.1, 8.2, 19.0, 8.2, 32.4, 9.7, 8.9, 8.2, 12.8, 9.7, 9.1, 7.2, 7.0, 8.9, 7.2, 8.2, 7.6],
  [8.7, 18.2, 21.3, 12.2, 13.5, 23.9, 10.1, 26.7, 14.2, 13.0, 11.8, 15.4, 7.8, 7.4, 11.3, 7.8, 8.5, 7.8, 8.3, 9.3],
  [12.9, 7.8, 10.8, 21.4, 30.5, 8.7, 18.3, 16.5, 8.1, 7.6, 10.1, 11.3, 7.3, 12.8, 9.0, 8.2, 8.1, 7.1, 7.2, 6.9],
  [9.9, 7.5, 14.6, 14.7, 11.9, 11.9, 11.8, 10.9, 10.3, 10.2, 9.9, 9.7, 8.8, 6.6, 8.5, 7.3, 7.7, 8.1, 6.7, 7.2],
  [29.5, 28.6, 10.2, 22.2, 15.0, 13.9, 13.5, 13.2, 12.3, 18.5, 10.7, 11.7, 14.8, 10.7, 10.1, 9.6, 8.9, 10.7, 7.7, 8.2],
  [132.2, 12.2, 29.4, 10.0, 56.1, 10.0, 12.2, 13.9, 14.4, 43.3, 16.7, 12.2, 14.4, 11.7, 11.1, 16.7, 10.0, 10.0, 11.7, 10.0],
  [8.4, 11.9, 10.15, 10.85, 10.1, 8.25, 8.25, 6.1, 11.0, 5.1, 7.3, 5.85, 8.55, 5.2, 7.35, 6.7, 8.1, 6.1, 5.65, 5.05],
  [6.4, 8.3, 11.3, 6.8, 6.4, 14.5, 8.0, 12.0, 11.8, 10.8, 10.6, 9.0, 10.5, 10.4, 9.9, 9.0, 8.6, 6.1, 6.3, 6.0],
  [12.5, 8.0, 13.7, 7.2, 6.3, 6.15, 9.7, 8.6, 6.85, 8.3, 8.15, 8.0, 7.5, 5.9, 6.3, 6.0, 5.85, 5.7, 5.6, 5.6],
  [78.0, 27.7, 13.3, 23.7, 19.5, 8.6, 24.4, 18.8, 16.8, 29.6, 8.6, 8.6, 26.9, 16.3, 12.6, 12.8, 10.1, 10.9, 8.9, 8.6],
  [104.0, 67.1, 21.8, 27.9, 8.4, 11.4, 21.8, 7.4, 16.8, 11.4, 6.7, 11.4, 10.1, 9.4, 8.4, 7.4, 7.4, 7.0, 6.7, 6.7],
];

const topicLabels = topicTerms.map((_, i) => String(i + 1));

const FONT = '"Liberation Sans", Arial, Helvetica, sans-serif';
const AXIS_TEXT = 16.3;
const STRIP_TEXT = 11.7;
const TITLE_TEXT = 14.7;
const NCOL = 11;
const NROW = 11;

// ggplot's default hue palette: polar LUV -> sRGB
function hueColour(h: number, c = 100, l = 65): string {
  const Xn = 0.95047, Yn = 1, Zn = 1.08883;
  const den = Xn + 15 * Yn + 3 * Zn;
  const un = (4 * Xn) / den, vn = (9 * Yn) / den;
  const rad = (h * Math.PI) / 180;
  const U = c * Math.cos(rad), V = c * Math.sin(rad);
  const Y = Yn * (l > 8 ? Math.pow((l + 16) / 116, 3) : l / 903.3);
  const up = U / (13 * l) + un, vp = V / (13 * l) + vn;
  const X = (9 * Y * up) / (4 * vp);
  const Z = -X / 3 - 5 * Y + (3 * Y) / vp;
  const lin = [
    3.240479 * X - 1.53715 * Y - 0.498535 * Z,
    -0.969256 * X + 1.875992 * Y + 0.041556 * Z,
    0.055648 * X - 0.204043 * Y + 1.057311 * Z,
  ];
  const g = (v: number) => {
    const t = v <= 0.0031308 ? 12.92 * v : 1.055 * Math.pow(v, 1 / 2.4) - 0.055;
    return Math.round(255 * Math.min(1, Math.max(0, t)));
  };
  return d3.rgb(g(lin[0]), g(lin[1]), g(lin[2])).formatHex();
}

// labeling::extended, as used by ggplot for continuous breaks
function extendedBreaks(dmin: number, dmax: number, m = 5): number[] {
  const Q = [1, 5, 2, 2.5, 4, 3];
  const w = [0.25, 0.2, 0.5, 0.05];
  const eps = 2.220446e-16 * 100;
  const n = Q.length;
  const range = dmax - dmin;
  let best = { lmin: 0, lmax: 0, lstep: 1, score: -2 };
  let j = 1;
  outer: while (j < 50) {
    for (let qi = 0; qi < n; qi++) {
      const q = Q[qi];
      const sm = 1 - qi / (n - 1) - j + 1;
      if (w[0] * sm + w[1] + w[2] + w[3] < best.score) break outer;
      let k = 2;
      while (k < 100) {
        const dm = k >= m ? 2 - (k - 1) / (m - 1) : 1;
        if (w[0] * sm + w[1] + w[2] * dm + w[3] < best.score) break;
        const delta = range / (k + 1) / j / q;
        let z = Math.ceil(Math.log10(delta));
        while (z < 50) {
          const step = j * q * Math.pow(10, z);
          const span = step * (k - 1);
          let cm = 1;
          if (span > range) {
            const half = (span - range) / 2;
            cm = 1 - (0.5 * (2 * half * half)) / Math.pow(0.1 * range, 2);
          }
          if (w[0] * sm + w[1] * cm + w[2] * dm + w[3] < best.score) break;
          const minStart = Math.floor(dmax / step) * j - (k - 1) * j;
          const maxStart = Math.ceil(dmin / step) * j;
          if (minStart > maxStart) {
            z++;
            continue;
          }
          for (let start = minStart; start <= maxStart; start++) {
            const lmin = start * (step / j);
            const lmax = lmin + step * (k - 1);
            const mod = ((lmin % step) + step) % step;
            const v = (mod < eps || step - mod < eps) && lmin <= 0 && lmax >= 0 ? 1 : 0;
            const s = 1 - qi / (n - 1) - j + v;
            const cov = 1 - (0.5 * ((dmax - lmax) ** 2 + (dmin - lmin) ** 2)) / Math.pow(0.1 * range, 2);
            const r = (k - 1) / (lmax - lmin);
            const rt = (m - 1) / (Math.max(lmax, dmax) - Math.min(dmin, lmin));
            const dens = 2 - Math.max(r / rt, rt / r);
            const score = w[0] * s + w[1] * cov + w[2] * dens + w[3];
            if (score > best.score) best = { lmin, lmax, lstep: step, score };
          }
          z++;
        }
        k++;
      }
    }
    j++;
  }
  const count = Math.round((best.lmax - best.lmin) / best.lstep);
  const out: number[] = [];
  for (let i = 0; i <= count; i++) out.push(best.lmin + i * best.lstep);
  const tol = range * 1e-9;
  return out.filter((b) => b >= dmin - tol && b <= dmax + tol);
}

function formatBreaks(breaks: number[]): string[] {
  let d = 0;
  for (const b of breaks) {
    let k = 0;
    while (k < 8 && Math.abs(b * 10 ** k - Math.round(b * 10 ** k)) > 1e-6) k++;
    d = Math.max(d, k);
  }
  return breaks.map((b) => (Math.abs(b) < 1e-12 ? 0 : b).toFixed(d));
}

function makeMeasurer(size: number) {
  const canvas = document.createElement("canvas");
  const ctx = canvas.getContext("2d");
  if (ctx) ctx.font = `${size}px ${FONT}`;
  return (s: string) => (ctx ? ctx.measureText(s).width : s.length * size * 0.55);
}

export default function App() {
  const layout = useMemo(() => {
    const margin = 5.5 * PT;
    const tickLen = 2.75 * PT;
    const textGap = 2.2 * PT;
    const spacing = 5.5 * PT;
    const stripH = 23.3;
    const xAxisH = 22.7;
    const titleGap = 2.75 * PT;
    const titleH = 15;

    const measure = makeMeasurer(AXIS_TEXT);
    const terms = topicTerms.map((t) => t.split(" "));
    const colAxis = d3.range(NCOL).map((c) => {
      let mx = 0;
      terms.forEach((ts, p) => {
        if (p % NCOL === c) ts.forEach((t) => (mx = Math.max(mx, measure(t))));
      });
      return mx + tickLen + textGap;
    });
    const leftFixed = margin + titleH + titleGap;
    const panelW = (W - leftFixed - d3.sum(colAxis) - (NCOL - 1) * spacing - margin) / NCOL;
    const panelLeft = d3.range(NCOL).map(
      (c) => leftFixed + d3.sum(colAxis.slice(0, c + 1)) + c * (panelW + spacing)
    );
    const panelH =
      (H - margin - NROW * (stripH + xAxisH) - (NROW - 1) * spacing - titleGap - titleH - margin) / NROW;
    const stripTop = d3.range(NROW).map((r) => margin + r * (stripH + panelH + xAxisH + spacing));

    const panels = terms.map((ts, p) => {
      const row = Math.floor(p / NCOL);
      const col = p % NCOL;
      const beta = topicBeta[p].map((v) => v / 1000);
      const maxB = d3.max(beta) ?? 1;
      const lo = -0.05 * maxB;
      const hi = 1.05 * maxB;
      const left = panelLeft[col];
      const top = stripTop[row] + stripH;
      const x = d3.scaleLinear().domain([lo, hi]).range([left, left + panelW]);
      const y = d3
        .scaleBand<number>()
        .domain(d3.range(ts.length))
        .range([top, top + panelH])
        .paddingInner(0.1)
        .paddingOuter(0.15);
      const breaks = extendedBreaks(lo, hi, 5);
      return {
        p,
        ts,
        beta,
        left,
        top,
        stripY: stripTop[row],
        x,
        y,
        breaks,
        labels: formatBreaks(breaks),
        colour: hueColour(15 + p * 3),
      };
    });

    return {
      panels,
      panelW,
      panelH,
      stripH,
      tickLen,
      textGap,
      margin,
      titleH,
      firstLeft: panelLeft[0],
      lastRight: panelLeft[NCOL - 1] + panelW,
      areaTop: stripTop[0],
      areaBottom: stripTop[NROW - 1] + stripH + panelH + xAxisH,
    };
  }, []);

  const { panels, panelW, panelH, stripH, tickLen, textGap, margin, titleH } = layout;

  return (
    <svg
      width={W}
      height={H}
      viewBox={`0 0 ${W} ${H}`}
      style={{ position: "absolute", left: 0, top: 0, display: "block", background: "#FFFFFF" }}
      fontFamily={FONT}
    >
      <rect x={0} y={0} width={W} height={H} fill="#FFFFFF" />
      {panels.map((pn) => {
        const bottom = pn.top + panelH;
        const bw = pn.y.bandwidth();
        return (
          <g key={pn.p}>
            {pn.beta.map((b, i) => (
              <rect
                key={i}
                x={pn.x(0)}
                y={pn.y(i)}
                width={Math.max(0, pn.x(b) - pn.x(0))}
                height={bw}
                fill={pn.colour}
              />
            ))}
            <line x1={pn.left} x2={pn.left} y1={pn.top} y2={bottom} stroke="#000000" strokeWidth={1.42} />
            <line x1={pn.left} x2={pn.left + panelW} y1={bottom} y2={bottom} stroke="#000000" strokeWidth={1.42} />
            {pn.ts.map((t, i) => {
              const cy = (pn.y(i) ?? 0) + bw / 2;
              return (
                <g key={i}>
                  <line x1={pn.left - tickLen} x2={pn.left} y1={cy} y2={cy} stroke="#333333" strokeWidth={1.42} />
                  <text
                    x={pn.left - tickLen - textGap}
                    y={cy}
                    dy="0.36em"
                    textAnchor="end"
                    fontSize={AXIS_TEXT}
                    fill="#4D4D4D"
                  >
                    {t}
                  </text>
                </g>
              );
            })}
            {pn.breaks.map((b, i) => (
              <g key={i}>
                <line
                  x1={pn.x(b)}
                  x2={pn.x(b)}
                  y1={bottom}
                  y2={bottom + tickLen}
                  stroke="#333333"
                  strokeWidth={1.42}
                />
                <text
                  x={pn.x(b)}
                  y={bottom + tickLen + textGap + 0.7 * AXIS_TEXT}
                  textAnchor="middle"
                  fontSize={AXIS_TEXT}
                  fill="#4D4D4D"
                >
                  {pn.labels[i]}
                </text>
              </g>
            ))}
            <rect
              x={pn.left}
              y={pn.stripY}
              width={panelW}
              height={stripH}
              fill="#FFFFFF"
              stroke="#000000"
              strokeWidth={2.4}
            />
            <text
              x={pn.left + panelW / 2}
              y={pn.stripY + stripH / 2}
              dy="0.36em"
              textAnchor="middle"
              fontSize={STRIP_TEXT}
              fill="#1A1A1A"
            >
              {topicLabels[pn.p]}
            </text>
          </g>
        );
      })}
      <text
        x={(layout.firstLeft + layout.lastRight) / 2}
        y={H - margin - 0.22 * TITLE_TEXT}
        textAnchor="middle"
        fontSize={TITLE_TEXT}
        fill="#000000"
      >
        beta
      </text>
      <text
        transform={`translate(${margin + titleH / 2}, ${(layout.areaTop + layout.areaBottom) / 2}) rotate(-90)`}
        dy="0.36em"
        textAnchor="middle"
        fontSize={TITLE_TEXT}
        fill="#000000"
      >
        term
      </text>
    </svg>
  );
}
